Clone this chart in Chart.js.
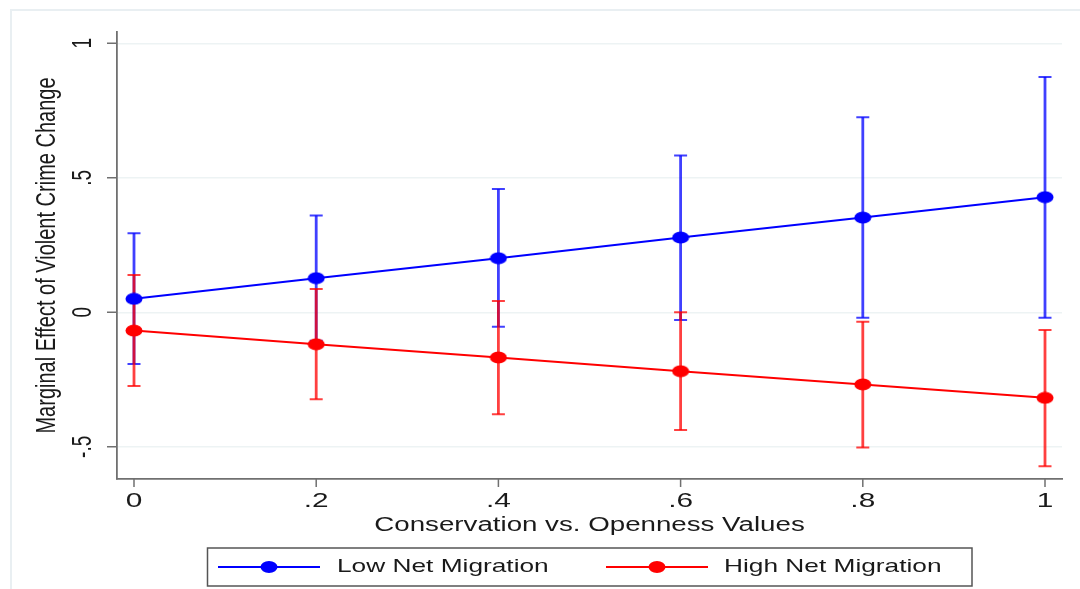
<!DOCTYPE html>
<html>
<head>
<meta charset="utf-8">
<script src="https://cdn.jsdelivr.net/npm/chart.js@4/dist/chart.umd.min.js"></script>
<style>
    html, body { margin: 0; padding: 0; background: #fff; }
    #wrap { position: relative; width: 1080px; height: 589px; overflow: hidden; }
    #frame { position: absolute; left: 10px; top: 9px; width: 1100px; height: 620px;
             border-left: 2px solid #e9eff2; border-top: 2px solid #e9eff2; pointer-events: none; }
</style>
</head>
<body>
<div id="wrap">
    <canvas id="chartMarginal" width="1080" height="589"></canvas>
    <div id="frame"></div>
</div>
<script>
const xValues = [0, 0.2, 0.4, 0.6, 0.8, 1];
const lowEffect = [0.050, 0.127, 0.201, 0.278, 0.352, 0.428];
const lowUpper = [0.294, 0.360, 0.458, 0.583, 0.725, 0.875];
const lowLower = [-0.192, -0.106, -0.054, -0.029, -0.020, -0.020];
const highEffect = [-0.068, -0.119, -0.168, -0.219, -0.268, -0.318];
const highUpper = [0.139, 0.087, 0.042, 0.000, -0.035, -0.066];
const highLower = [-0.274, -0.323, -0.379, -0.438, -0.503, -0.572];
const xTickValues = [0, 0.2, 0.4, 0.6, 0.8, 1];
const xTickLabels = ['0', '.2', '.4', '.6', '.8', '1'];
const yTickValues = [1, 0.5, 0, -0.5];
const yTickLabels = ['1', '.5', '0', '-.5'];
const seriesNames = ['Low Net Migration', 'High Net Migration'];
const xTitle = 'Conservation vs. Openness Values';
const yTitle = 'Marginal Effect of Violent Crime Change';

// the picture is stretched sideways, so text and dots are too
const SX = 1.42;
const FONT = '"Liberation Sans", Arial, sans-serif';

function makeDot(color) {
    let c = document.createElement('canvas');
    c.width = 18;
    c.height = 13;
    let g = c.getContext('2d');
    g.fillStyle = color;
    g.beginPath();
    g.ellipse(9, 6.5, 8.5, 6, 0, 0, Math.PI * 2);
    g.fill();
    return c;
}

function toPoints(ys) {
    return xValues.map((x, i) => ({ x: x, y: ys[i] }));
}

function stretchText(ctx, text, x, y, align, baseline, rotate) {
    ctx.save();
    ctx.translate(x, y);
    ctx.scale(SX, 1);
    if (rotate) ctx.rotate(-Math.PI / 2);
    ctx.textAlign = align;
    ctx.textBaseline = baseline;
    ctx.fillText(text, 0, 0);
    ctx.restore();
}

const ciSets = [
    { lower: lowLower, upper: lowUpper, color: 'rgba(0,0,255,0.75)' },
    { lower: highLower, upper: highUpper, color: 'rgba(255,0,0,0.75)' }
];

const errorBars = {
    id: 'errorBars',
    beforeDatasetsDraw(chart) {
        const ctx = chart.ctx;
        const xs = chart.scales.x;
        const ys = chart.scales.y;
        ctx.save();
        ciSets.forEach(set => {
            ctx.strokeStyle = set.color;
            for (let i = 0; i < xValues.length; i++) {
                let px = xs.getPixelForValue(xValues[i]);
                let top = ys.getPixelForValue(set.upper[i]);
                let bot = ys.getPixelForValue(set.lower[i]);
                ctx.lineWidth = 2.8;
                ctx.beginPath();
                ctx.moveTo(px, top);
                ctx.lineTo(px, bot);
                ctx.stroke();
                ctx.lineWidth = 2;
                ctx.beginPath();
                ctx.moveTo(px - 6.5, top);
                ctx.lineTo(px + 6.5, top);
                ctx.moveTo(px - 6.5, bot);
                ctx.lineTo(px + 6.5, bot);
                ctx.stroke();
            }
        });
        ctx.restore();
    },
    afterDraw(chart) {
        const ctx = chart.ctx;
        const xs = chart.scales.x;
        const ys = chart.scales.y;
        const area = chart.chartArea;
        ctx.save();

        // tick marks
        ctx.strokeStyle = '#707070';
        ctx.lineWidth = 1.5;
        ctx.beginPath();
        yTickValues.forEach(v => {
            let py = ys.getPixelForValue(v);
            ctx.moveTo(area.left - 10, py);
            ctx.lineTo(area.left, py);
        });
        xTickValues.forEach(v => {
            let px = xs.getPixelForValue(v);
            ctx.moveTo(px, area.bottom);
            ctx.lineTo(px, area.bottom + 8);
        });
        ctx.stroke();

        // tick labels and titles
        ctx.fillStyle = '#1a1a1a';
        ctx.font = '21px ' + FONT;
        xTickValues.forEach((v, i) => {
            stretchText(ctx, xTickLabels[i], xs.getPixelForValue(v), 507, 'center', 'alphabetic', false);
        });
        ctx.font = '19px ' + FONT;
        yTickValues.forEach((v, i) => {
            stretchText(ctx, yTickLabels[i], 84, ys.getPixelForValue(v), 'center', 'middle', true);
        });
        ctx.font = '19.5px ' + FONT;
        stretchText(ctx, xTitle, (area.left + area.right) / 2, 531, 'center', 'alphabetic', false);
        ctx.font = '20px ' + FONT;
        stretchText(ctx, yTitle, 47, (area.top + area.bottom) / 2, 'center', 'middle', true);

        // legend
        ctx.strokeStyle = '#555';
        ctx.lineWidth = 1.5;
        ctx.strokeRect(207.5, 548, 764.5, 38);
        const legendItems = [
            { x1: 218, x2: 320, text: 337, color: '#0000ff', name: seriesNames[0] },
            { x1: 606, x2: 708, text: 724, color: '#ff0000', name: seriesNames[1] }
        ];
        ctx.font = '18.5px ' + FONT;
        legendItems.forEach(item => {
            ctx.strokeStyle = item.color;
            ctx.lineWidth = 2;
            ctx.beginPath();
            ctx.moveTo(item.x1, 567);
            ctx.lineTo(item.x2, 567);
            ctx.stroke();
            ctx.fillStyle = item.color;
            ctx.beginPath();
            ctx.ellipse((item.x1 + item.x2) / 2, 567, 8.5, 6, 0, 0, Math.PI * 2);
            ctx.fill();
            ctx.fillStyle = '#1a1a1a';
            stretchText(ctx, item.name, item.text, 567, 'left', 'middle', false);
        });
        ctx.restore();
    }
};

function initChart() {
    let canvas = document.getElementById('chartMarginal');
    new Chart(canvas, {
        type: 'line',
        data: {
            datasets: [
                {
                    label: seriesNames[0],
                    data: toPoints(lowEffect),
                    borderColor: '#0000ff',
                    borderWidth: 2,
                    pointStyle: makeDot('#0000ff'),
                    tension: 0
                },
                {
                    label: seriesNames[1],
                    data: toPoints(highEffect),
                    borderColor: '#ff0000',
                    borderWidth: 2,
                    pointStyle: makeDot('#ff0000'),
                    tension: 0
                }
            ]
        },
        options: {
            responsive: false,
            animation: false,
            layout: { padding: { left: 117, top: 32, right: 18, bottom: 110 } },
            plugins: { legend: { display: false }, tooltip: { enabled: false } },
            scales: {
                x: {
                    type: 'linear',
                    min: -0.01866,
                    max: 1.01866,
                    afterBuildTicks: s => { s.ticks = xTickValues.map(v => ({ value: v })); },
                    ticks: { display: false },
                    grid: { display: false, drawTicks: false },
                    border: { display: true, color: '#707070', width: 1.8 }
                },
                y: {
                    type: 'linear',
                    min: -0.6197,
                    max: 1.042,
                    afterBuildTicks: s => { s.ticks = yTickValues.map(v => ({ value: v })); },
                    ticks: { display: false },
                    grid: { color: '#edf3f4', lineWidth: 1.5, drawTicks: false },
                    border: { display: true, color: '#707070', width: 1.8 }
                }
            }
        },
        plugins: [errorBars]
    });
}

window.addEventListener('load', initChart);
</script>
</body>
</html>
